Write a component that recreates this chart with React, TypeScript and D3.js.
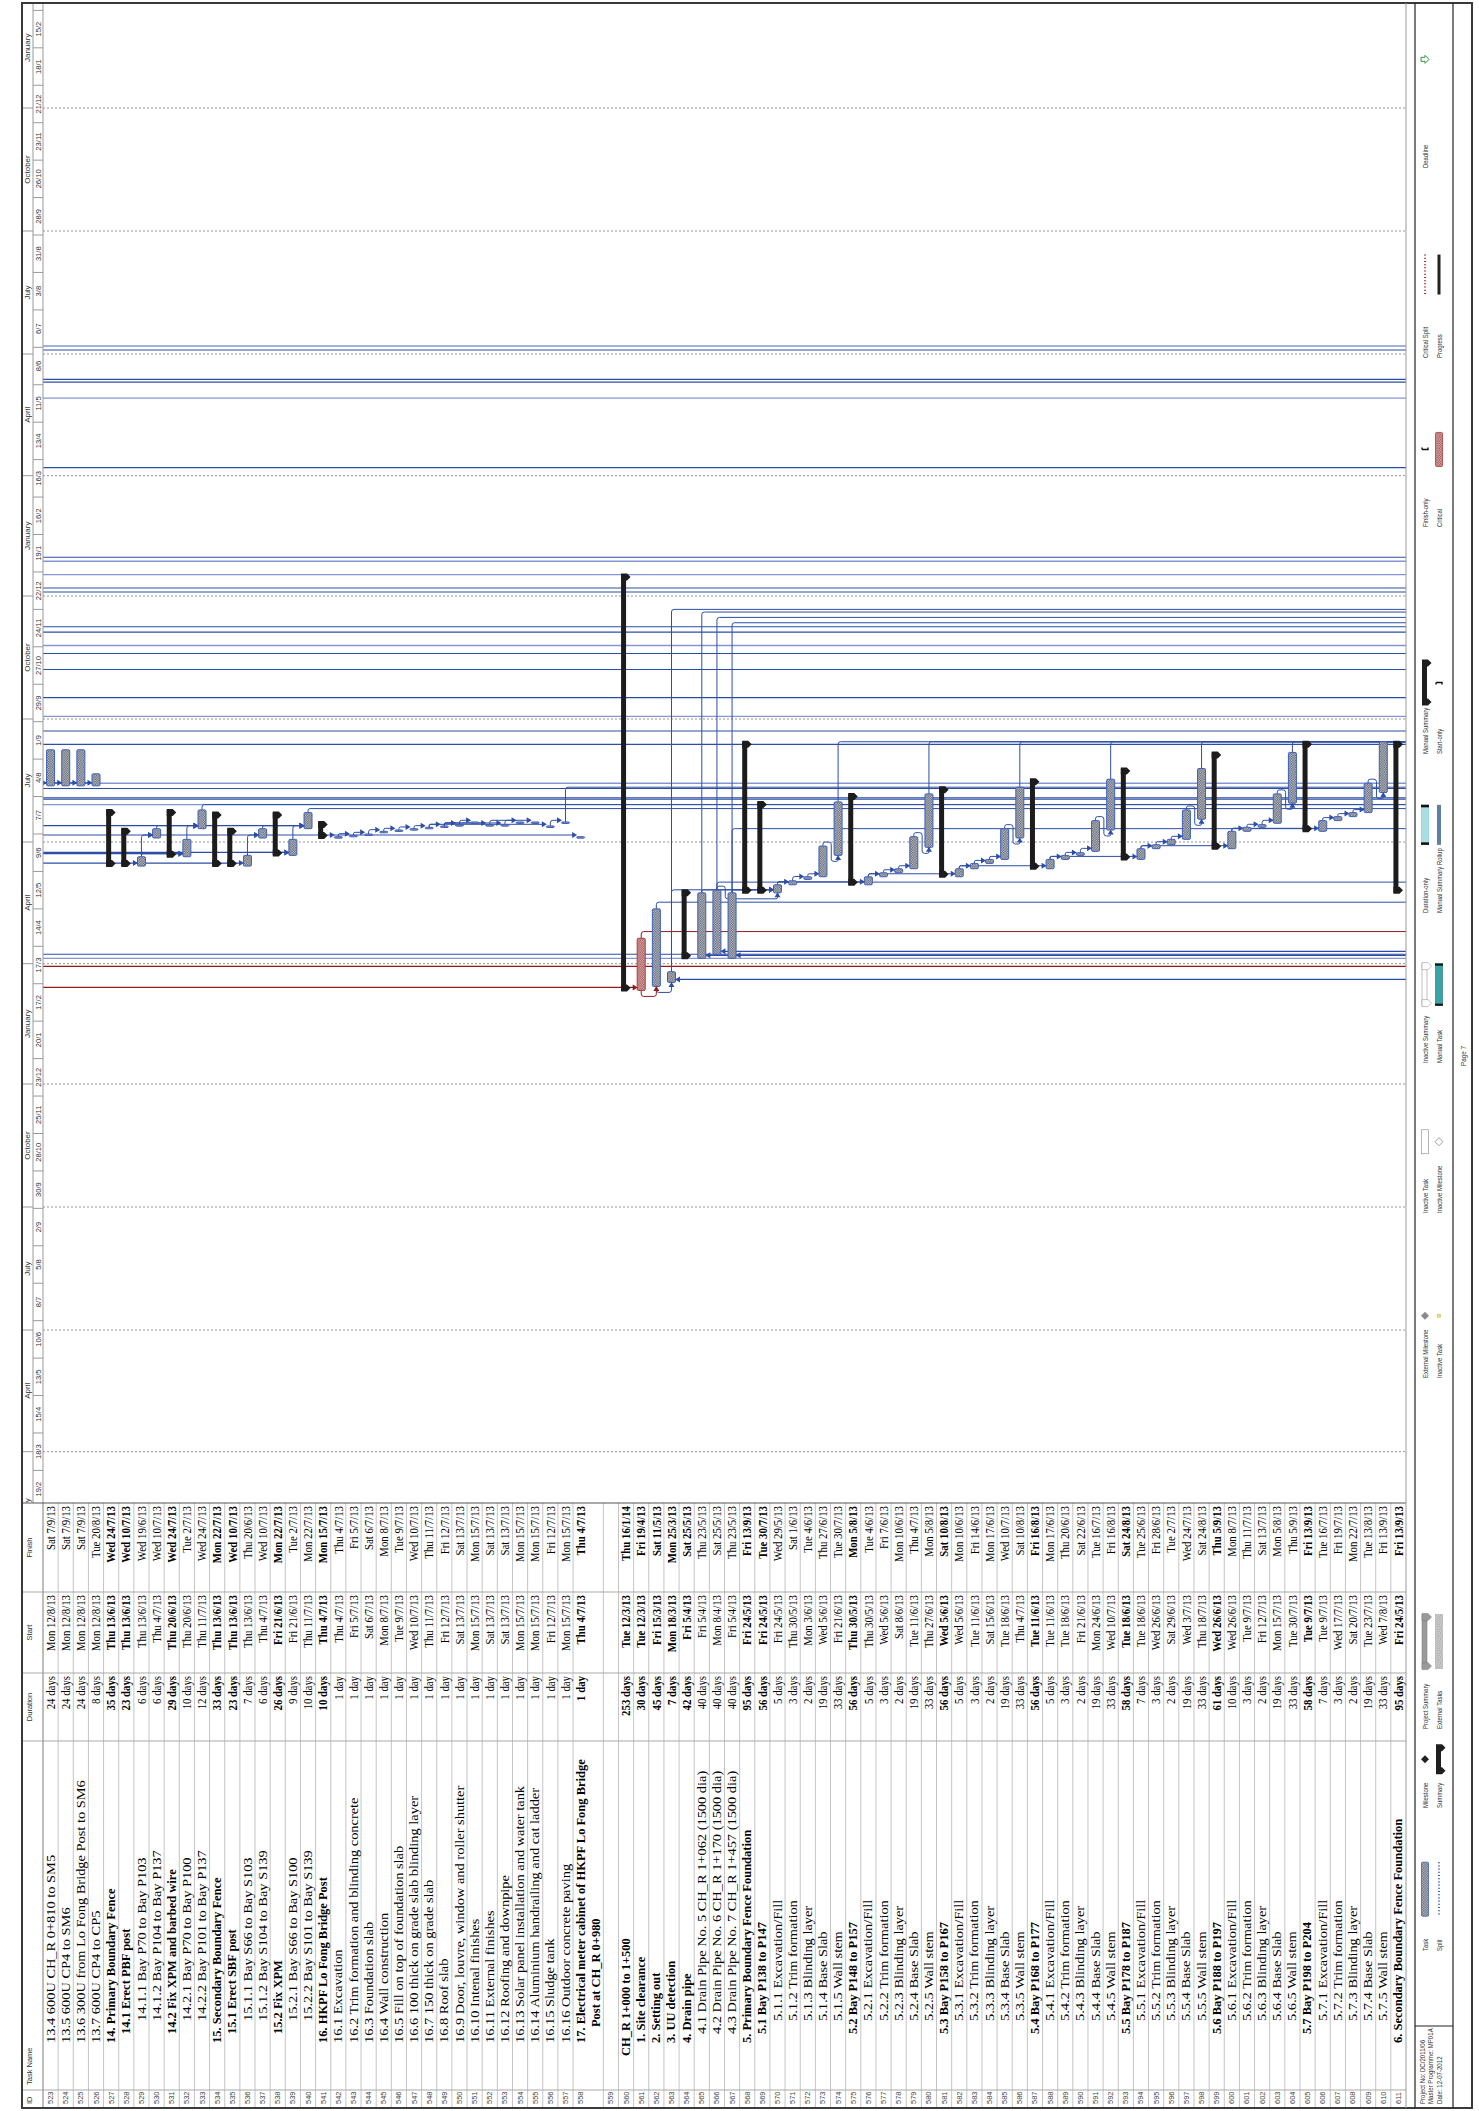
import React from 'react';
import * as d3 from 'd3';

// ---------------------------------------------------------------------------
// Schedule rows: ID, task name, duration, start, finish, outline level
// ---------------------------------------------------------------------------
type Task = [number, string, string, string, string, number];

const tasks: Task[] = [
  [523, '13.4  600U CH_R 0+810 to SM5', '24 days', 'Mon 12/8/13', 'Sat 7/9/13', 1],
  [524, '13.5  600U CP4 to SM6', '24 days', 'Mon 12/8/13', 'Sat 7/9/13', 1],
  [525, '13.6  300U from Lo Fong Bridge Post to SM6', '24 days', 'Mon 12/8/13', 'Sat 7/9/13', 1],
  [526, '13.7  600U CP4 to CP5', '8 days', 'Mon 12/8/13', 'Tue 20/8/13', 1],
  [527, '14.  Primary Boundary Fence', '35 days', 'Thu 13/6/13', 'Wed 24/7/13', 1],
  [528, '14.1 Erect PBF post', '23 days', 'Thu 13/6/13', 'Wed 10/7/13', 2],
  [529, '14.1.1 Bay P70 to Bay P103', '6 days', 'Thu 13/6/13', 'Wed 19/6/13', 3],
  [530, '14.1.2 Bay P104 to Bay P137', '6 days', 'Thu 4/7/13', 'Wed 10/7/13', 3],
  [531, '14.2 Fix XPM and barbed wire', '29 days', 'Thu 20/6/13', 'Wed 24/7/13', 2],
  [532, '14.2.1 Bay P70 to Bay P100', '10 days', 'Thu 20/6/13', 'Tue 2/7/13', 3],
  [533, '14.2.2 Bay P101 to Bay P137', '12 days', 'Thu 11/7/13', 'Wed 24/7/13', 3],
  [534, '15.  Secondary Boundary Fence', '33 days', 'Thu 13/6/13', 'Mon 22/7/13', 1],
  [535, '15.1  Erect SBF post', '23 days', 'Thu 13/6/13', 'Wed 10/7/13', 2],
  [536, '15.1.1 Bay S66 to Bay S103', '7 days', 'Thu 13/6/13', 'Thu 20/6/13', 3],
  [537, '15.1.2 Bay S104 to Bay S139', '6 days', 'Thu 4/7/13', 'Wed 10/7/13', 3],
  [538, '15.2 Fix XPM', '26 days', 'Fri 21/6/13', 'Mon 22/7/13', 2],
  [539, '15.2.1 Bay S66 to Bay S100', '9 days', 'Fri 21/6/13', 'Tue 2/7/13', 3],
  [540, '15.2.2 Bay S101 to Bay S139', '10 days', 'Thu 11/7/13', 'Mon 22/7/13', 3],
  [541, '16.  HKPF Lo Fong Bridge Post', '10 days', 'Thu 4/7/13', 'Mon 15/7/13', 1],
  [542, '16.1  Excavation', '1 day', 'Thu 4/7/13', 'Thu 4/7/13', 1],
  [543, '16.2  Trim formation and blinding concrete', '1 day', 'Fri 5/7/13', 'Fri 5/7/13', 1],
  [544, '16.3  Foundation slab', '1 day', 'Sat 6/7/13', 'Sat 6/7/13', 1],
  [545, '16.4  Wall construction', '1 day', 'Mon 8/7/13', 'Mon 8/7/13', 1],
  [546, '16.5  Fill on top of foundation slab', '1 day', 'Tue 9/7/13', 'Tue 9/7/13', 1],
  [547, '16.6  100 thick on grade slab blinding layer', '1 day', 'Wed 10/7/13', 'Wed 10/7/13', 1],
  [548, '16.7  150 thick on grade slab', '1 day', 'Thu 11/7/13', 'Thu 11/7/13', 1],
  [549, '16.8  Roof slab', '1 day', 'Fri 12/7/13', 'Fri 12/7/13', 1],
  [550, '16.9  Door, louvre, window and roller shutter', '1 day', 'Sat 13/7/13', 'Sat 13/7/13', 1],
  [551, '16.10  Intenal finishes', '1 day', 'Mon 15/7/13', 'Mon 15/7/13', 1],
  [552, '16.11  External finishes', '1 day', 'Sat 13/7/13', 'Sat 13/7/13', 1],
  [553, '16.12  Roofing and downpipe', '1 day', 'Sat 13/7/13', 'Sat 13/7/13', 1],
  [554, '16.13  Solar panel installation and water tank', '1 day', 'Mon 15/7/13', 'Mon 15/7/13', 1],
  [555, '16.14  Aluminium handrailing and cat ladder', '1 day', 'Mon 15/7/13', 'Mon 15/7/13', 1],
  [556, '16.15  Sludge tank', '1 day', 'Fri 12/7/13', 'Fri 12/7/13', 1],
  [557, '16.16  Outdoor concrete paving', '1 day', 'Mon 15/7/13', 'Mon 15/7/13', 1],
  [558, '17. Electrical meter cabinet of HKPF Lo Fong Bridge\nPost at CH_R 0+980', '1 day', 'Thu 4/7/13', 'Thu 4/7/13', 1],
  [559, '', '', '', '', 0],
  [560, 'CH_R 1+000 to 1+500', '253 days', 'Tue 12/3/13', 'Thu 16/1/14', 0],
  [561, '1. Site clearance', '30 days', 'Tue 12/3/13', 'Fri 19/4/13', 1],
  [562, '2. Setting out', '45 days', 'Fri 15/3/13', 'Sat 11/5/13', 1],
  [563, '3. UU detection', '7 days', 'Mon 18/3/13', 'Mon 25/3/13', 1],
  [564, '4. Drain pipe', '42 days', 'Fri 5/4/13', 'Sat 25/5/13', 1],
  [565, '4.1 Drain Pipe No. 5 CH_R 1+062 (1500 dia)', '40 days', 'Fri 5/4/13', 'Thu 23/5/13', 2],
  [566, '4.2 Drain Pipe No. 6 CH_R 1+170 (1500 dia)', '40 days', 'Mon 8/4/13', 'Sat 25/5/13', 2],
  [567, '4.3 Drain Pipe No. 7 CH_R 1+457  (1500 dia)', '40 days', 'Fri 5/4/13', 'Thu 23/5/13', 2],
  [568, '5. Primary Boundary Fence Foundation', '95 days', 'Fri 24/5/13', 'Fri 13/9/13', 1],
  [569, '5.1 Bay P138 to P147', '56 days', 'Fri 24/5/13', 'Tue 30/7/13', 2],
  [570, '5.1.1 Excavation/Fill', '5 days', 'Fri 24/5/13', 'Wed 29/5/13', 3],
  [571, '5.1.2 Trim formation', '3 days', 'Thu 30/5/13', 'Sat 1/6/13', 3],
  [572, '5.1.3 Blinding layer', '2 days', 'Mon 3/6/13', 'Tue 4/6/13', 3],
  [573, '5.1.4 Base Slab', '19 days', 'Wed 5/6/13', 'Thu 27/6/13', 3],
  [574, '5.1.5 Wall stem', '33 days', 'Fri 21/6/13', 'Tue 30/7/13', 3],
  [575, '5.2 Bay P148 to P157', '56 days', 'Thu 30/5/13', 'Mon 5/8/13', 2],
  [576, '5.2.1 Excavation/Fill', '5 days', 'Thu 30/5/13', 'Tue 4/6/13', 3],
  [577, '5.2.2 Trim formation', '3 days', 'Wed 5/6/13', 'Fri 7/6/13', 3],
  [578, '5.2.3 Blinding layer', '2 days', 'Sat 8/6/13', 'Mon 10/6/13', 3],
  [579, '5.2.4 Base Slab', '19 days', 'Tue 11/6/13', 'Thu 4/7/13', 3],
  [580, '5.2.5 Wall stem', '33 days', 'Thu 27/6/13', 'Mon 5/8/13', 3],
  [581, '5.3 Bay P158 to P167', '56 days', 'Wed 5/6/13', 'Sat 10/8/13', 2],
  [582, '5.3.1 Excavation/Fill', '5 days', 'Wed 5/6/13', 'Mon 10/6/13', 3],
  [583, '5.3.2 Trim formation', '3 days', 'Tue 11/6/13', 'Fri 14/6/13', 3],
  [584, '5.3.3 Blinding layer', '2 days', 'Sat 15/6/13', 'Mon 17/6/13', 3],
  [585, '5.3.4 Base Slab', '19 days', 'Tue 18/6/13', 'Wed 10/7/13', 3],
  [586, '5.3.5 Wall stem', '33 days', 'Thu 4/7/13', 'Sat 10/8/13', 3],
  [587, '5.4 Bay P168 to P177', '56 days', 'Tue 11/6/13', 'Fri 16/8/13', 2],
  [588, '5.4.1 Excavation/Fill', '5 days', 'Tue 11/6/13', 'Mon 17/6/13', 3],
  [589, '5.4.2 Trim formation', '3 days', 'Tue 18/6/13', 'Thu 20/6/13', 3],
  [590, '5.4.3 Blinding layer', '2 days', 'Fri 21/6/13', 'Sat 22/6/13', 3],
  [591, '5.4.4 Base Slab', '19 days', 'Mon 24/6/13', 'Tue 16/7/13', 3],
  [592, '5.4.5 Wall stem', '33 days', 'Wed 10/7/13', 'Fri 16/8/13', 3],
  [593, '5.5 Bay P178 to P187', '58 days', 'Tue 18/6/13', 'Sat 24/8/13', 2],
  [594, '5.5.1 Excavation/Fill', '7 days', 'Tue 18/6/13', 'Tue 25/6/13', 3],
  [595, '5.5.2 Trim formation', '3 days', 'Wed 26/6/13', 'Fri 28/6/13', 3],
  [596, '5.5.3 Blinding layer', '2 days', 'Sat 29/6/13', 'Tue 2/7/13', 3],
  [597, '5.5.4 Base Slab', '19 days', 'Wed 3/7/13', 'Wed 24/7/13', 3],
  [598, '5.5.5 Wall stem', '33 days', 'Thu 18/7/13', 'Sat 24/8/13', 3],
  [599, '5.6 Bay P188 to P197', '61 days', 'Wed 26/6/13', 'Thu 5/9/13', 2],
  [600, '5.6.1 Excavation/Fill', '10 days', 'Wed 26/6/13', 'Mon 8/7/13', 3],
  [601, '5.6.2 Trim formation', '3 days', 'Tue 9/7/13', 'Thu 11/7/13', 3],
  [602, '5.6.3 Blinding layer', '2 days', 'Fri 12/7/13', 'Sat 13/7/13', 3],
  [603, '5.6.4 Base Slab', '19 days', 'Mon 15/7/13', 'Mon 5/8/13', 3],
  [604, '5.6.5 Wall stem', '33 days', 'Tue 30/7/13', 'Thu 5/9/13', 3],
  [605, '5.7 Bay P198 to P204', '58 days', 'Tue 9/7/13', 'Fri 13/9/13', 2],
  [606, '5.7.1 Excavation/Fill', '7 days', 'Tue 9/7/13', 'Tue 16/7/13', 3],
  [607, '5.7.2 Trim formation', '3 days', 'Wed 17/7/13', 'Fri 19/7/13', 3],
  [608, '5.7.3 Blinding layer', '2 days', 'Sat 20/7/13', 'Mon 22/7/13', 3],
  [609, '5.7.4 Base Slab', '19 days', 'Tue 23/7/13', 'Tue 13/8/13', 3],
  [610, '5.7.5 Wall stem', '33 days', 'Wed 7/8/13', 'Fri 13/9/13', 3],
  [611, '6. Secondary Boundary Fence Foundation', '95 days', 'Fri 24/5/13', 'Fri 13/9/13', 1],
];

const summaryIds = [527, 528, 531, 534, 535, 538, 541, 560, 564, 568, 569, 575, 581, 587, 593, 599, 605, 611];
const boldTaskIds = [558, 561, 562, 563];
const criticalIds = [561];

// Finish-to-start links between rows on this page
const fsLinks: [number, number][] = [
  [529, 530], [529, 532], [530, 533], [532, 533],
  [536, 537], [536, 539], [537, 540], [539, 540],
  [542, 543], [543, 544], [544, 545], [545, 546], [546, 547], [547, 548], [548, 549],
  [549, 550], [550, 551], [549, 552], [549, 553], [552, 554], [553, 555], [548, 556], [556, 557],
  [563, 570], [565, 570], [566, 570], [567, 570],
  [570, 571], [571, 572], [572, 573], [573, 574],
  [576, 577], [577, 578], [578, 579], [579, 580],
  [582, 583], [583, 584], [584, 585], [585, 586],
  [588, 589], [589, 590], [590, 591], [591, 592],
  [594, 595], [595, 596], [596, 597], [597, 598],
  [600, 601], [601, 602], [602, 603], [603, 604],
  [606, 607], [607, 608], [608, 609], [609, 610],
  [570, 576], [576, 582], [582, 588], [588, 594], [594, 600], [600, 606],
];
// Start-to-start links
const ssLinks: [number, number][] = [[561, 562], [562, 563]];

// Links arriving from rows printed on earlier pages
const incomingFromAbove: [string, number[]][] = [
  ['2013-08-12', [523, 524, 525, 526]],
  ['2013-06-13', [529, 536]],
  ['2013-06-20', [532]],
  ['2013-06-21', [539]],
  ['2013-07-04', [530, 537, 542, 558]],
  ['2013-07-11', [533, 540]],
  ['2013-03-12', [561]],
];
// Links arriving from rows printed on later pages
const incomingFromBelow: [string, number[]][] = [
  ['2013-04-05', [565, 567]],
  ['2013-04-08', [566]],
  ['2013-03-18', [563]],
];
// Links leaving this page towards later rows: [predecessor, date of successor]
const outgoing: [number, string][] = [
  [557, '2013-08-11'], [533, '2013-07-29'], [540, '2013-07-26'],
  [561, '2013-04-25'], [562, '2013-05-17'],
  [563, '2013-12-22'], [565, '2013-12-20'], [566, '2013-12-16'], [567, '2013-12-12'],
  [567, '2013-07-11'], [566, '2013-06-01'],
  [574, '2013-09-14'], [580, '2013-09-14'], [586, '2013-09-14'], [592, '2013-09-14'],
  [598, '2013-09-14'], [604, '2013-09-14'], [610, '2013-09-14'],
];
// Link lines passing straight through this page
const passLines: [string, string][] = [
  ['2014-07-07', 'light'], ['2014-07-04', 'dark'], ['2014-06-12', 'dark'], ['2014-06-10', 'dark'],
  ['2014-05-29', 'light'], ['2014-04-07', 'dark'], ['2014-01-30', 'dark'], ['2014-01-27', 'light'],
  ['2014-01-17', 'light'], ['2014-01-07', 'dark'], ['2014-01-04', 'dark'], ['2013-12-09', 'dark'],
  ['2013-12-05', 'dark'], ['2013-11-25', 'light'], ['2013-11-19', 'dark'], ['2013-11-07', 'dark'],
  ['2013-10-17', 'dark'], ['2013-10-03', 'light'], ['2013-09-22', 'dark'], ['2013-09-12', 'dark'],
  ['2013-08-14', 'light'], ['2013-08-10', 'dark'], ['2013-08-03', 'dark'], ['2013-08-02', 'dark'],
  ['2013-07-29', 'light'], ['2013-04-08', 'dark'], ['2013-04-05', 'light'], ['2013-03-30', 'red'],
];

// Timescale: 4-week ticks starting from this date, quarters on the upper tier
const firstTick = '2012-02-19';
const quarterNames = ['January', 'April', 'July', 'October'];

// Table columns
const columnTitles = ['ID', 'Task Name', 'Duration', 'Start', 'Finish'];

// Legend (two lines per column)
const legendLine1 = ['Task', 'Milestone', 'Project Summary', 'External Milestone', 'Inactive Task', 'Inactive Summary', 'Duration-only', 'Manual Summary', 'Finish-only', 'Critical Split', 'Deadline'];
const legendLine2 = ['Split', 'Summary', 'External Tasks', 'Inactive Task', 'Inactive Milestone', 'Manual Task', 'Manual Summary Rollup', 'Start-only', 'Critical', 'Progress'];
const projectInfo = ['Project No: DC/2011/06', 'Master Programme: MP01A', 'Date: 12-07-2012'];
const pageLabel = 'Page 7';

// ---------------------------------------------------------------------------
const W = 1479;
const H = 2111;
const SANS = '"Liberation Sans", Arial, sans-serif';
const SERIF = '"Liberation Serif", "Times New Roman", serif';

const FR = { left: 22, top: 3, right: 1472, bottom: 2108 };
const TIER_X = 33;
const HEAD_X = 43;
const GANTT_RIGHT = 1406;
const LEG_L = 1415;
const LEG_M = 1453;
const LEG_DIV = 2026;
const TABLE_Y = 1503;
const COL_Y = { start: 1592, dur: 1673, name: 1741, id: 2090 };
// legend layout: column label starts (page y), symbol lengths and gaps
const LEGEND_COL_Y = [1951, 1808, 1729, 1378, 1213, 1063, 913, 754, 527, 358, 168];
const LEGEND_SYM_LEN = [54, 28, 54, 8, 24, 42, 40, 44, 34, 40, 10];
const LEGEND_GAP = [20, 8, 16, 5, 6, 10, 6, 8, 28, 22, 80];
const LEG_FONT = 7.4;
const LEG_SX = 0.8;

const LINK_DARK = '#2d4ea6';
const LINK_LIGHT = '#8497d4';
const LINK_RED = '#8e1c1c';

const parseCell = (s: string) => {
  const [, dmy] = s.split(' ');
  const [d, m, y] = dmy.split('/').map(Number);
  return new Date(2000 + y, m - 1, d);
};
const parseIso = (s: string) => {
  const [y, m, d] = s.split('-').map(Number);
  return new Date(y, m - 1, d);
};

function roundPath(pts: [number, number][], r = 2.5) {
  let d = `M${pts[0][0]},${pts[0][1]}`;
  for (let i = 1; i < pts.length - 1; i++) {
    const [x0, y0] = pts[i - 1];
    const [x1, y1] = pts[i];
    const [x2, y2] = pts[i + 1];
    const l1 = Math.hypot(x1 - x0, y1 - y0);
    const l2 = Math.hypot(x2 - x1, y2 - y1);
    const rr = Math.min(r, l1 / 2, l2 / 2);
    if (rr < 0.05) {
      d += ` L${x1},${y1}`;
      continue;
    }
    const ax = x1 - ((x1 - x0) / l1) * rr;
    const ay = y1 - ((y1 - y0) / l1) * rr;
    const bx = x1 + ((x2 - x1) / l2) * rr;
    const by = y1 + ((y2 - y1) / l2) * rr;
    d += ` L${ax},${ay} Q${x1},${y1} ${bx},${by}`;
  }
  const last = pts[pts.length - 1];
  return d + ` L${last[0]},${last[1]}`;
}

function arrowHead(x: number, y: number, dir: 'right' | 'left' | 'up', s = 5, w = 3) {
  if (dir === 'right') return `M${x},${y}L${x - s},${y - w}L${x - s},${y + w}Z`;
  if (dir === 'left') return `M${x},${y}L${x + s},${y - w}L${x + s},${y + w}Z`;
  return `M${x},${y}L${x - w},${y + s}L${x + w},${y + s}Z`;
}

// rough advance width of a label in the small sans face
const labelLen = (s: string) => s.length * LEG_FONT * 0.5 * LEG_SX;

// text that reads bottom-to-top
function VText(props: {
  x: number; y: number; children: React.ReactNode; anchor?: string; size?: number;
  family?: string; weight?: string; fill?: string; sx?: number;
}) {
  const { x, y, children, anchor = 'start', size = 8, family = SANS, weight = 'normal', fill = '#000', sx = 1 } = props;
  return (
    <text
      transform={`translate(${x},${y}) rotate(-90) scale(${sx},1)`}
      textAnchor={anchor}
      dominantBaseline="central"
      fontSize={size}
      fontFamily={family}
      fontWeight={weight}
      fill={fill}
    >
      {children}
    </text>
  );
}

export default function App() {
  // time runs upwards along the page
  const y = d3
    .scaleTime()
    .domain([new Date(2015, 0, 1), new Date(2012, 0, 1)])
    .range([108, 108 + 1096 * 1.337]);

  // rows run left to right; a wrapped name takes two lines
  const lineCounts = tasks.map((t) => t[1].split('\n').length);
  const totalUnits = d3.sum(lineCounts);
  const P = (GANTT_RIGHT - HEAD_X) / totalUnits;
  const unitStart = [0, ...d3.cumsum(lineCounts)];
  const rowIndex = new Map(tasks.map((t, i) => [t[0], i]));
  const rowTop = (i: number) => HEAD_X + unitStart[i] * P;
  const rowMid = (id: number) => rowTop(rowIndex.get(id)!) + P / 2;
  const task = (id: number) => tasks[rowIndex.get(id)!];
  const yStart = (id: number) => y(parseCell(task(id)[3]));
  const yFinish = (id: number) => y(d3.timeDay.offset(parseCell(task(id)[4]), 1));
  const isSummary = (id: number) => summaryIds.includes(id);
  const isCritical = (id: number) => criticalIds.includes(id);
  const hw = 4;

  // ---- timescale ----
  const tickDates = d3.timeDay.range(parseIso(firstTick), new Date(2015, 4, 1), 28);
  const quarters = d3.timeMonth.every(3)!.range(new Date(2011, 9, 1), new Date(2015, 6, 1));

  // ---- link geometry ----
  const linkPaths: { d: string; color: string; width: number }[] = [];
  const arrows: { d: string; color: string }[] = [];

  fsLinks.forEach(([a, b]) => {
    const xp = rowMid(a);
    const xs = rowMid(b);
    const yF = yFinish(a);
    const yS = yStart(b);
    const color = isCritical(a) ? LINK_RED : LINK_DARK;
    if (yS <= yF + 0.5) {
      const yT = yS - 3;
      linkPaths.push({ d: roundPath([[xp, yF], [xp, yT], [xs - hw - 2, yT]]), color, width: 1 });
      arrows.push({ d: arrowHead(xs - hw + 0.5, yT, 'right'), color });
    } else {
      const xm = xp + P * 0.55;
      linkPaths.push({
        d: roundPath([[xp, yF], [xp, yF - 4], [xm, yF - 4], [xm, yS + 6], [xs, yS + 6], [xs, yS + 3]]),
        color,
        width: 1,
      });
      arrows.push({ d: arrowHead(xs, yS - 0.5, 'up'), color });
    }
  });

  ssLinks.forEach(([a, b]) => {
    const xp = rowMid(a);
    const xs = rowMid(b);
    const yP = yStart(a);
    const yS = yStart(b);
    const color = isCritical(a) ? LINK_RED : LINK_DARK;
    linkPaths.push({ d: roundPath([[xp, yP], [xp, yP + 6], [xs, yP + 6], [xs, yS + 3]]), color, width: 1 });
    arrows.push({ d: arrowHead(xs, yS - 0.5, 'up'), color });
  });

  incomingFromAbove.forEach(([date, ids]) => {
    const yT = y(parseIso(date)) - 3;
    const color = ids.some(isCritical) ? LINK_RED : LINK_DARK;
    const xEnd = Math.max(...ids.map(rowMid)) - hw - 2;
    linkPaths.push({ d: `M${HEAD_X},${yT}L${xEnd},${yT}`, color, width: 1.2 });
    ids.forEach((id) => arrows.push({ d: arrowHead(rowMid(id) - hw + 0.5, yT, 'right'), color }));
  });

  incomingFromBelow.forEach(([date, ids]) => {
    const yT = y(parseIso(date)) - 3;
    const xEnd = Math.min(...ids.map(rowMid)) + hw + 2;
    linkPaths.push({ d: `M${GANTT_RIGHT},${yT}L${xEnd},${yT}`, color: LINK_DARK, width: 1.2 });
    ids.forEach((id) => arrows.push({ d: arrowHead(rowMid(id) + hw - 0.5, yT, 'left'), color: LINK_DARK }));
  });

  outgoing.forEach(([id, date]) => {
    const xp = rowMid(id);
    const yF = yFinish(id);
    const yD = y(parseIso(date));
    const color = isCritical(id) ? LINK_RED : LINK_DARK;
    linkPaths.push({ d: roundPath([[xp, yF], [xp, yD], [GANTT_RIGHT, yD]]), color, width: 1 });
  });

  // ---- bars ----
  const bars = tasks.filter((t) => t[3] !== '');

  const summaryShape = (xc: number, y0: number, y1: number) => {
    // y0: start (lower end), y1: finish (upper end)
    const xl = xc - 5;
    const bar = `M${xl},${y1}L${xc},${y1}L${xc},${y0}L${xl},${y0}Z`;
    const capS = `M${xl},${y0 + 1}L${xc + 1},${y0 + 1}L${xc + 4.5},${y0 - 2.5}L${xc + 1},${y0 - 6}L${xl},${y0 - 6}Z`;
    const capF = `M${xl},${y1 - 1}L${xc + 1},${y1 - 1}L${xc + 4.5},${y1 + 2.5}L${xc + 1},${y1 + 6}L${xl},${y1 + 6}Z`;
    return [bar, capS, capF];
  };

  // ---- legend ----
  const legX1 = 1425;
  const legX2 = 1439;
  const legendSpan = (i: number): [number, number] => {
    const labels = [legendLine1[i], legendLine2[i]].filter(Boolean) as string[];
    const longest = Math.max(...labels.map(labelLen));
    const b = LEGEND_COL_Y[i] - longest - LEGEND_GAP[i];
    return [b, b - LEGEND_SYM_LEN[i]];
  };

  const legendSymbol = (kind: string, cx: number, b: number, a: number, key: string) => {
    // a: upper end, b: lower end
    const mid = (a + b) / 2;
    const diamond = (c: number) => `M${cx},${c - 4}L${cx + 4},${c}L${cx},${c + 4}L${cx - 4},${c}Z`;
    switch (kind) {
      case 'Task':
        return <rect key={key} x={cx - 3.5} y={a} width={7} height={b - a} fill="url(#hatch)" stroke="#3d5fc0" strokeWidth={0.8} rx={1} />;
      case 'Split':
        return <line key={key} x1={cx} x2={cx} y1={a} y2={b} stroke="#3d5fc0" strokeWidth={2} strokeDasharray="1,2.2" />;
      case 'Milestone':
        return <path key={key} d={diamond(mid)} fill="#222" />;
      case 'Summary':
      case 'Manual Summary':
        return (
          <g key={key}>
            {summaryShape(cx + 2, b, a).map((d, j) => <path key={j} d={d} fill="#1e1e1e" />)}
          </g>
        );
      case 'Project Summary':
        return (
          <g key={key}>
            {summaryShape(cx + 2, b, a).map((d, j) => <path key={j} d={d} fill="#9a9a9a" stroke="#777" strokeWidth={0.5} />)}
          </g>
        );
      case 'External Tasks':
        return <rect key={key} x={cx - 3.5} y={a} width={7} height={b - a} fill="url(#hatchGrey)" stroke="#aaa" strokeWidth={0.6} />;
      case 'External Milestone':
        return <path key={key} d={diamond(mid)} fill="#8a8a8a" />;
      case 'Inactive Milestone':
        return <path key={key} d={diamond(mid)} fill="#fff" stroke="#888" strokeWidth={0.8} />;
      case 'Inactive Summary':
        return (
          <g key={key}>
            {summaryShape(cx + 2, b, a).map((d, j) => <path key={j} d={d} fill="#fff" stroke="#999" strokeWidth={0.6} />)}
          </g>
        );
      case 'Manual Task':
        return (
          <g key={key}>
            <rect x={cx - 3.5} y={a} width={7} height={b - a} fill="#3aa3a8" stroke="#1f6f73" strokeWidth={0.6} />
            <rect x={cx - 4} y={a} width={8} height={2} fill="#111" />
            <rect x={cx - 4} y={b - 2} width={8} height={2} fill="#111" />
          </g>
        );
      case 'Duration-only':
        return (
          <g key={key}>
            <rect x={cx - 3.5} y={a} width={7} height={b - a} fill="#a9dde2" stroke="#6bb" strokeWidth={0.5} />
            <rect x={cx - 4} y={a} width={8} height={2.5} fill="#111" />
            <rect x={cx - 4} y={b - 2.5} width={8} height={2.5} fill="#111" />
          </g>
        );
      case 'Manual Summary Rollup':
        return <rect key={key} x={cx - 2} y={a} width={4} height={b - a} fill="#5e7fa6" />;
      case 'Start-only':
        return <path key={key} d={`M${cx - 3},${mid}L${cx + 3},${mid}L${cx + 3},${mid + 2}M${cx - 3},${mid}L${cx - 3},${mid + 2}`} stroke="#111" strokeWidth={1.4} fill="none" />;
      case 'Finish-only':
        return <path key={key} d={`M${cx - 3},${mid}L${cx + 3},${mid}L${cx + 3},${mid - 2}M${cx - 3},${mid}L${cx - 3},${mid - 2}`} stroke="#111" strokeWidth={1.4} fill="none" />;
      case 'Critical':
        return <rect key={key} x={cx - 3.5} y={a} width={7} height={b - a} fill="url(#hatchRed)" stroke="#b43a3a" strokeWidth={0.8} rx={1} />;
      case 'Critical Split':
        return <line key={key} x1={cx} x2={cx} y1={a} y2={b} stroke="#a33" strokeWidth={2} strokeDasharray="1,2.2" />;
      case 'Progress':
        return <rect key={key} x={cx - 1.5} y={a} width={3} height={b - a} fill="#222" />;
      case 'Deadline':
        return <path key={key} d={`M${cx + 4},${mid}L${cx},${mid - 4}L${cx},${mid - 2}L${cx - 4},${mid - 2}L${cx - 4},${mid + 2}L${cx},${mid + 2}L${cx},${mid + 4}Z`} fill="#fff" stroke="#2f9a3a" strokeWidth={1} />;
      case 'Inactive Task':
        return key.startsWith('l2')
          ? <rect key={key} x={cx - 1.5} y={mid - 1.5} width={3} height={3} fill="#e8e070" stroke="#b8a830" strokeWidth={0.4} />
          : <rect key={key} x={cx - 3.5} y={a} width={7} height={b - a} fill="#fff" stroke="#999" strokeWidth={0.7} />;
      default:
        return null;
    }
  };

  return (
    <svg
      width={W}
      height={H}
      viewBox={`0 0 ${W} ${H}`}
      style={{ position: 'absolute', left: 0, top: 0, background: '#fff' }}
    >
      <defs>
        <pattern id="hatch" width="2.4" height="2.4" patternUnits="userSpaceOnUse">
          <rect width="2.4" height="2.4" fill="#c4c8d2" />
          <rect width="1.2" height="1.2" fill="#5b5e66" />
          <rect x="1.2" y="1.2" width="1.2" height="1.2" fill="#5b5e66" />
        </pattern>
        <pattern id="hatchRed" width="2.4" height="2.4" patternUnits="userSpaceOnUse">
          <rect width="2.4" height="2.4" fill="#e4b5b5" />
          <rect width="1.2" height="1.2" fill="#9a5050" />
          <rect x="1.2" y="1.2" width="1.2" height="1.2" fill="#9a5050" />
        </pattern>
        <pattern id="hatchGrey" width="2.4" height="2.4" patternUnits="userSpaceOnUse">
          <rect width="2.4" height="2.4" fill="#e0e0e0" />
          <rect width="1.2" height="1.2" fill="#a0a0a0" />
          <rect x="1.2" y="1.2" width="1.2" height="1.2" fill="#a0a0a0" />
        </pattern>
        <clipPath id="ganttClip">
          <rect x={HEAD_X} y={FR.top} width={GANTT_RIGHT - HEAD_X} height={TABLE_Y - FR.top} />
        </clipPath>
        <clipPath id="scaleClip">
          <rect x={FR.left} y={FR.top} width={HEAD_X - FR.left} height={TABLE_Y - FR.top} />
        </clipPath>
      </defs>

      {/* ---------------- gantt area ---------------- */}
      <g clipPath="url(#ganttClip)">
        {quarters.map((q, i) => (
          <line key={`q${i}`} x1={HEAD_X} x2={GANTT_RIGHT} y1={y(q)} y2={y(q)} stroke="#8a8a8a" strokeWidth={0.9} strokeDasharray="2,2" />
        ))}
        {passLines.map(([date, tone], i) => (
          <line
            key={`p${i}`}
            x1={HEAD_X}
            x2={GANTT_RIGHT}
            y1={y(parseIso(date))}
            y2={y(parseIso(date))}
            stroke={tone === 'red' ? LINK_RED : tone === 'light' ? LINK_LIGHT : LINK_DARK}
            strokeWidth={tone === 'light' ? 1.4 : 1.1}
          />
        ))}
        {linkPaths.map((l, i) => (
          <path key={`l${i}`} d={l.d} fill="none" stroke={l.color} strokeWidth={l.width} />
        ))}
        {bars.map((t) => {
          const id = t[0];
          const xc = rowMid(id);
          const y0 = yStart(id);
          const y1 = yFinish(id);
          if (isSummary(id)) {
            return (
              <g key={`b${id}`}>
                {summaryShape(xc, y0, y1).map((d, j) => <path key={j} d={d} fill="#1c1c1c" />)}
              </g>
            );
          }
          const crit = isCritical(id);
          return (
            <rect
              key={`b${id}`}
              x={xc - hw}
              y={y1}
              width={hw * 2}
              height={Math.max(1.5, y0 - y1)}
              rx={1.2}
              fill={crit ? 'url(#hatchRed)' : 'url(#hatch)'}
              stroke={crit ? '#b0393c' : '#3d5fc0'}
              strokeWidth={1}
            />
          );
        })}
        {arrows.map((a, i) => (
          <path key={`a${i}`} d={a.d} fill={a.color} />
        ))}
      </g>

      {/* ---------------- timescale ---------------- */}
      <g clipPath="url(#scaleClip)">
        {quarters.map((q, i) => (
          <line key={`qt${i}`} x1={FR.left} x2={TIER_X} y1={y(q)} y2={y(q)} stroke="#9a9a9a" strokeWidth={1} />
        ))}
        {quarters.slice(0, -1).map((q, i) => {
          const mid = (y(q) + y(quarters[i + 1])) / 2;
          if (mid < FR.top + 10) return null;
          return (
            <VText key={`ql${i}`} x={27.5} y={mid} anchor="middle" size={8} fill="#333">
              {quarterNames[Math.floor(q.getMonth() / 3)]}
            </VText>
          );
        })}
        {tickDates.map((t, i) => (
          <line key={`tk${i}`} x1={TIER_X} x2={HEAD_X} y1={y(t)} y2={y(t)} stroke="#9a9a9a" strokeWidth={1} />
        ))}
        {tickDates.slice(0, -1).map((t, i) => {
          const mid = (y(t) + y(tickDates[i + 1])) / 2;
          if (mid < FR.top + 6) return null;
          return (
            <VText key={`tl${i}`} x={38.5} y={mid} anchor="middle" size={7.6} fill="#333">
              {`${t.getDate()}/${t.getMonth() + 1}`}
            </VText>
          );
        })}
      </g>
      <line x1={TIER_X} x2={TIER_X} y1={FR.top} y2={TABLE_Y} stroke="#9a9a9a" strokeWidth={1} />

      {/* ---------------- table ---------------- */}
      {tasks.map((t, i) => (
        <line key={`rl${i}`} x1={rowTop(i)} x2={rowTop(i)} y1={TABLE_Y} y2={FR.bottom} stroke="#c4c4c4" strokeWidth={1} />
      ))}
      {[COL_Y.start, COL_Y.dur, COL_Y.name, COL_Y.id].map((cy, i) => (
        <line key={`cl${i}`} x1={FR.left} x2={GANTT_RIGHT} y1={cy} y2={cy} stroke="#a9a9a9" strokeWidth={1} />
      ))}
      <line x1={HEAD_X} x2={HEAD_X} y1={FR.top} y2={FR.bottom} stroke="#9a9a9a" strokeWidth={1} />
      <line x1={FR.left} x2={GANTT_RIGHT} y1={TABLE_Y} y2={TABLE_Y} stroke="#555" strokeWidth={1.2} />

      {/* column titles */}
      <VText x={29} y={FR.bottom - 4} size={7.5} fill="#333">{columnTitles[0]}</VText>
      <VText x={29} y={COL_Y.id - 5} size={7.5} fill="#333">{columnTitles[1]}</VText>
      <VText x={29} y={(COL_Y.dur + COL_Y.name) / 2} anchor="middle" size={7.5} fill="#333">{columnTitles[2]}</VText>
      <VText x={29} y={(COL_Y.start + COL_Y.dur) / 2} anchor="middle" size={7.5} fill="#333">{columnTitles[3]}</VText>
      <VText x={29} y={(TABLE_Y + COL_Y.start) / 2} anchor="middle" size={7.5} fill="#333">{columnTitles[4]}</VText>

      {tasks.map((t, i) => {
        const [id, name, dur, start, finish, level] = t;
        const xc = rowTop(i) + P / 2;
        const bold = isSummary(id) || boldTaskIds.includes(id);
        const weight = bold ? 'bold' : 'normal';
        const indent = [34, 47, 56, 69][level];
        const lines = name.split('\n');
        return (
          <g key={`row${id}`}>
            <VText x={xc} y={FR.bottom - 4} size={7.5} fill="#444">{id}</VText>
            {lines.map((ln, j) => (
              <VText key={j} x={xc + j * P} y={COL_Y.id - indent - (j > 0 ? 16 : 0)} size={12} family={SERIF} weight={weight} sx={bold ? 1.04 : 1.2}>
                {ln}
              </VText>
            ))}
            {dur && (
              <VText x={xc} y={COL_Y.dur + 3} anchor="end" size={12} family={SERIF} weight={weight} sx={0.9}>{dur}</VText>
            )}
            {start && (
              <VText x={xc} y={COL_Y.start + 3} anchor="end" size={12} family={SERIF} weight={weight} sx={0.9}>{start}</VText>
            )}
            {finish && (
              <VText x={xc} y={TABLE_Y + 3} anchor="end" size={12} family={SERIF} weight={weight} sx={0.9}>{finish}</VText>
            )}
          </g>
        );
      })}

      {/* ---------------- frame ---------------- */}
      <rect x={FR.left} y={FR.top} width={FR.right - FR.left} height={FR.bottom - FR.top} fill="none" stroke="#3a3a3a" strokeWidth={2} />
      <line x1={GANTT_RIGHT} x2={GANTT_RIGHT} y1={FR.top} y2={FR.bottom} stroke="#9a9a9a" strokeWidth={1} />
      <line x1={LEG_L} x2={LEG_L} y1={FR.top} y2={FR.bottom} stroke="#222" strokeWidth={1.2} />
      <line x1={LEG_M} x2={LEG_M} y1={FR.top} y2={FR.bottom} stroke="#222" strokeWidth={1.2} />
      <line x1={LEG_L} x2={LEG_M} y1={LEG_DIV} y2={LEG_DIV} stroke="#222" strokeWidth={1.2} />

      {/* ---------------- legend ---------------- */}
      {projectInfo.map((s, i) => (
        <VText key={`pi${i}`} x={1422 + i * 8.5} y={2104} size={7.2} fill="#333" sx={0.85}>{s}</VText>
      ))}
      {legendLine1.map((label, i) => {
        const [b, a] = legendSpan(i);
        return (
          <g key={`lg1${i}`}>
            <VText x={legX1} y={LEGEND_COL_Y[i]} size={LEG_FONT} fill="#333" sx={LEG_SX}>{label}</VText>
            {legendSymbol(label, legX1, b, a, `l1${i}`)}
          </g>
        );
      })}
      {legendLine2.map((label, i) => {
        const [b, a] = legendSpan(i);
        return (
          <g key={`lg2${i}`}>
            <VText x={legX2} y={LEGEND_COL_Y[i]} size={LEG_FONT} fill="#333" sx={LEG_SX}>{label}</VText>
            {legendSymbol(label, legX2, b, a, `l2${i}`)}
          </g>
        );
      })}
      <VText x={1463} y={1056} anchor="middle" size={7} fill="#333" sx={0.9}>{pageLabel}</VText>
    </svg>
  );
}
